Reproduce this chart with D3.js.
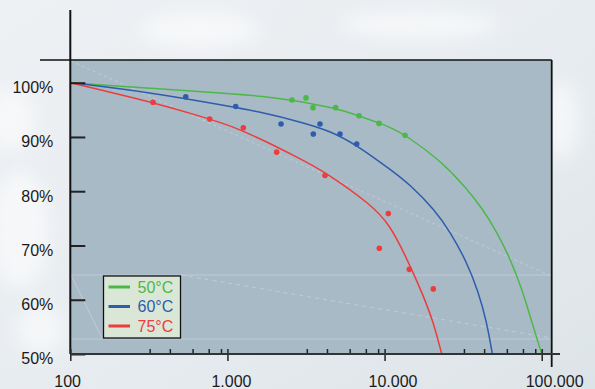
<!DOCTYPE html>
<html>
<head>
<meta charset="utf-8">
<script src="https://cdn.jsdelivr.net/npm/d3@7"></script>
<style>
  html, body { margin: 0; padding: 0; background: #e8ecf0; }
  svg { display: block; }
  text { font-family: "Liberation Sans", Arial, sans-serif; }
</style>
</head>
<body>
<svg id="chart" width="595" height="389"></svg>
<script>
// ---------- data ----------
const seriesNames = ["50°C", "60°C", "75°C"];
const seriesColors = ["#4cb848", "#2d5dab", "#ec3d3d"];

// measured points (hours, remaining %)
const pts50 = [[2576, 96.8], [3162, 97.2], [3504, 95.4], [4887, 95.4], [6877, 93.9], [9218, 92.5], [13490, 90.3]];
const pts60 = [[543, 97.4], [1129, 95.6], [2193, 92.4], [3882, 92.4], [3520, 90.55], [5204, 90.55], [6647, 88.7]];
const pts75 = [[336, 96.4], [771, 93.3], [1262, 91.7], [2058, 87.2], [4178, 82.9], [10563, 75.9], [9259, 69.5], [14370, 65.6], [20430, 62.0]];

// fitted curves
const curve50 = [[100, 100], [328, 98.97], [1058, 97.97], [1690, 97.5], [2576, 96.81], [4887, 95.3], [6877, 93.9], [9218, 92.6], [11365, 91.5], [13490, 90.4], [22530, 85.75], [33320, 80.54], [42500, 76.54], [51720, 72.54], [62860, 67.64], [74620, 62.11], [86410, 55.95], [100000, 50]];
const curve60 = [[100, 100], [328, 98.19], [1058, 95.58], [1690, 94.47], [2760, 92.95], [4498, 91.15], [6647, 88.52], [11365, 83.6], [14520, 81.2], [20940, 76.54], [26090, 72.54], [33320, 67.01], [39510, 61.48], [44670, 55.95], [48510, 50]];
const curve75 = [[100, 100], [336, 96.39], [771, 93.31], [1058, 92.02], [1690, 89.44], [2760, 86.3], [4178, 83.6], [8282, 77.46], [10830, 73.77], [13830, 67.64], [17240, 61.48], [20430, 55.95], [23100, 50]];

const xMajorTicks = [100, 1000, 10000, 100000];
const xMinorMultipliers = [3.2, 4.3, 6, 7.6, 9.1];
const yTicks = [50, 60, 70, 80, 90, 100];

// ---------- setup ----------
const svg = d3.select("#chart");
const W = 595, H = 389;
const plot = { left: 70.3, right: 551.7, top: 60, bottom: 354 };

const x = d3.scaleLog().domain([100, 100000]).range([70.3, 541.7]);
const y = d3.scaleLinear().domain([50, 100]).range([354, 82.7]);

// ---------- background ----------
const defs = svg.append("defs");
const bgGrad = defs.append("linearGradient").attr("id", "bgGrad").attr("x1", 0).attr("y1", 0).attr("x2", 1).attr("y2", 1);
bgGrad.append("stop").attr("offset", "0%").attr("stop-color", "#eef1f4");
bgGrad.append("stop").attr("offset", "60%").attr("stop-color", "#e6ebef");
bgGrad.append("stop").attr("offset", "100%").attr("stop-color", "#dde4e8");
svg.append("rect").attr("width", W).attr("height", H).attr("fill", "url(#bgGrad)");
const blur = defs.append("filter").attr("id", "blur").attr("x", "-50%").attr("y", "-50%").attr("width", "200%").attr("height", "200%");
blur.append("feGaussianBlur").attr("stdDeviation", 9);
const clouds = [[20, 230, 30, 60], [10, 120, 25, 30], [200, 30, 60, 18], [420, 25, 80, 15], [40, 330, 25, 25], [560, 120, 20, 40]];
svg.append("g").selectAll("ellipse").data(clouds).join("ellipse")
  .attr("cx", d => d[0]).attr("cy", d => d[1]).attr("rx", d => d[2]).attr("ry", d => d[3])
  .attr("fill", "#ffffff").attr("opacity", 0.55).attr("filter", "url(#blur)");

// ---------- plot area ----------
svg.append("rect")
  .attr("x", plot.left).attr("y", plot.top)
  .attr("width", plot.right - plot.left).attr("height", plot.bottom - plot.top)
  .attr("fill", "#a9bac7");

// faint reflections
const refl = svg.append("g").attr("stroke", "#ffffff").attr("fill", "none").attr("stroke-width", 1);
refl.append("line").attr("x1", 71).attr("y1", 61).attr("x2", 551).attr("y2", 276).attr("opacity", 0.25).attr("stroke-dasharray", "3,3");
refl.append("line").attr("x1", 71).attr("y1", 275).attr("x2", 551).attr("y2", 275).attr("opacity", 0.25);
refl.append("line").attr("x1", 71).attr("y1", 339).attr("x2", 551).attr("y2", 339).attr("opacity", 0.25);
refl.append("line").attr("x1", 181).attr("y1", 275).attr("x2", 551).attr("y2", 338).attr("opacity", 0.25).attr("stroke-dasharray", "4,4");
refl.append("line").attr("x1", 71).attr("y1", 275).attr("x2", 102).attr("y2", 338).attr("opacity", 0.25);

// frame lines
svg.append("line").attr("x1", 40).attr("x2", plot.right).attr("y1", plot.top).attr("y2", plot.top)
  .attr("stroke", "#111").attr("stroke-width", 1.5);
svg.append("line").attr("x1", plot.right).attr("x2", plot.right).attr("y1", plot.top).attr("y2", 367)
  .attr("stroke", "#111").attr("stroke-width", 1.8);

// ---------- curves ----------
const line = d3.line().x(d => x(d[0])).y(d => y(d[1])).curve(d3.curveBasis);
const curves = [curve50, curve60, curve75];
const points = [pts50, pts60, pts75];
const clip = defs.append("clipPath").attr("id", "plotClip");
clip.append("rect").attr("x", plot.left).attr("y", plot.top).attr("width", plot.right - plot.left).attr("height", plot.bottom - plot.top);

const gMarks = svg.append("g").attr("clip-path", "url(#plotClip)");
curves.forEach((c, i) => {
  gMarks.append("path").datum(c).attr("d", line)
    .attr("fill", "none").attr("stroke", seriesColors[i]).attr("stroke-width", 1.5);
});
points.forEach((p, i) => {
  gMarks.append("g").selectAll("circle").data(p).join("circle")
    .attr("cx", d => x(d[0])).attr("cy", d => y(d[1])).attr("r", 2.8)
    .attr("fill", seriesColors[i]);
});

// ---------- axes ----------
// y axis
const yAxis = d3.axisLeft(y).tickValues(yTicks).tickSize(-15).tickPadding(17).tickFormat(d => d + "%");
const gy = svg.append("g").attr("transform", `translate(${plot.left},0)`).call(yAxis);
gy.select(".domain").remove();
gy.selectAll(".tick line").attr("stroke", "#222").attr("stroke-width", 2);
gy.selectAll(".tick text").attr("fill", "#1a1a1a").attr("font-size", 16).attr("dy", "0.62em");
// y axis line (extends above plot)
svg.append("line").attr("x1", plot.left).attr("x2", plot.left).attr("y1", 10).attr("y2", plot.bottom)
  .attr("stroke", "#111").attr("stroke-width", 2);

// x axis: minor ticks
const minorTicks = [];
xMajorTicks.slice(0, -1).forEach(m => xMinorMultipliers.forEach(k => minorTicks.push(m * k)));
const xMinor = d3.axisBottom(x).tickValues(minorTicks).tickSize(-5).tickFormat("");
const gxm = svg.append("g").attr("transform", `translate(0,${plot.bottom})`).call(xMinor);
gxm.select(".domain").remove();
gxm.selectAll(".tick line").attr("stroke", "#222").attr("stroke-width", 1.5);

// x axis: major ticks
const loc = d3.formatLocale({ decimal: ",", thousands: ".", grouping: [3], currency: ["", ""] });
const xAxis = d3.axisBottom(x).tickValues(xMajorTicks).tickSize(7).tickFormat(loc.format(","));
const gx = svg.append("g").attr("transform", `translate(0,${plot.bottom})`).call(xAxis);
gx.select(".domain").remove();
gx.selectAll(".tick line").attr("y1", -5).attr("y2", 7).attr("stroke", "#222").attr("stroke-width", 1.5);
gx.selectAll(".tick text").attr("fill", "#1a1a1a").attr("font-size", 16)
  .attr("text-anchor", "start").attr("dx", -16.5).attr("y", 33).attr("dy", 0);
svg.append("line").attr("x1", plot.left).attr("x2", 560).attr("y1", plot.bottom).attr("y2", plot.bottom)
  .attr("stroke", "#333").attr("stroke-width", 2);

// ---------- legend ----------
const lg = svg.append("g").attr("transform", "translate(103.5,276)");
lg.append("rect").attr("width", 77).attr("height", 62)
  .attr("fill", "#dbe7d6").attr("stroke", "#111").attr("stroke-width", 1.3);
seriesNames.forEach((n, i) => {
  const yy = 11 + i * 19.5;
  lg.append("line").attr("x1", 5).attr("x2", 26.5).attr("y1", yy).attr("y2", yy)
    .attr("stroke", seriesColors[i]).attr("stroke-width", 3);
  lg.append("text").attr("x", 34).attr("y", yy + 5.8).attr("font-size", 16)
    .attr("fill", seriesColors[i]).text(n);
});
</script>
</body>
</html>
